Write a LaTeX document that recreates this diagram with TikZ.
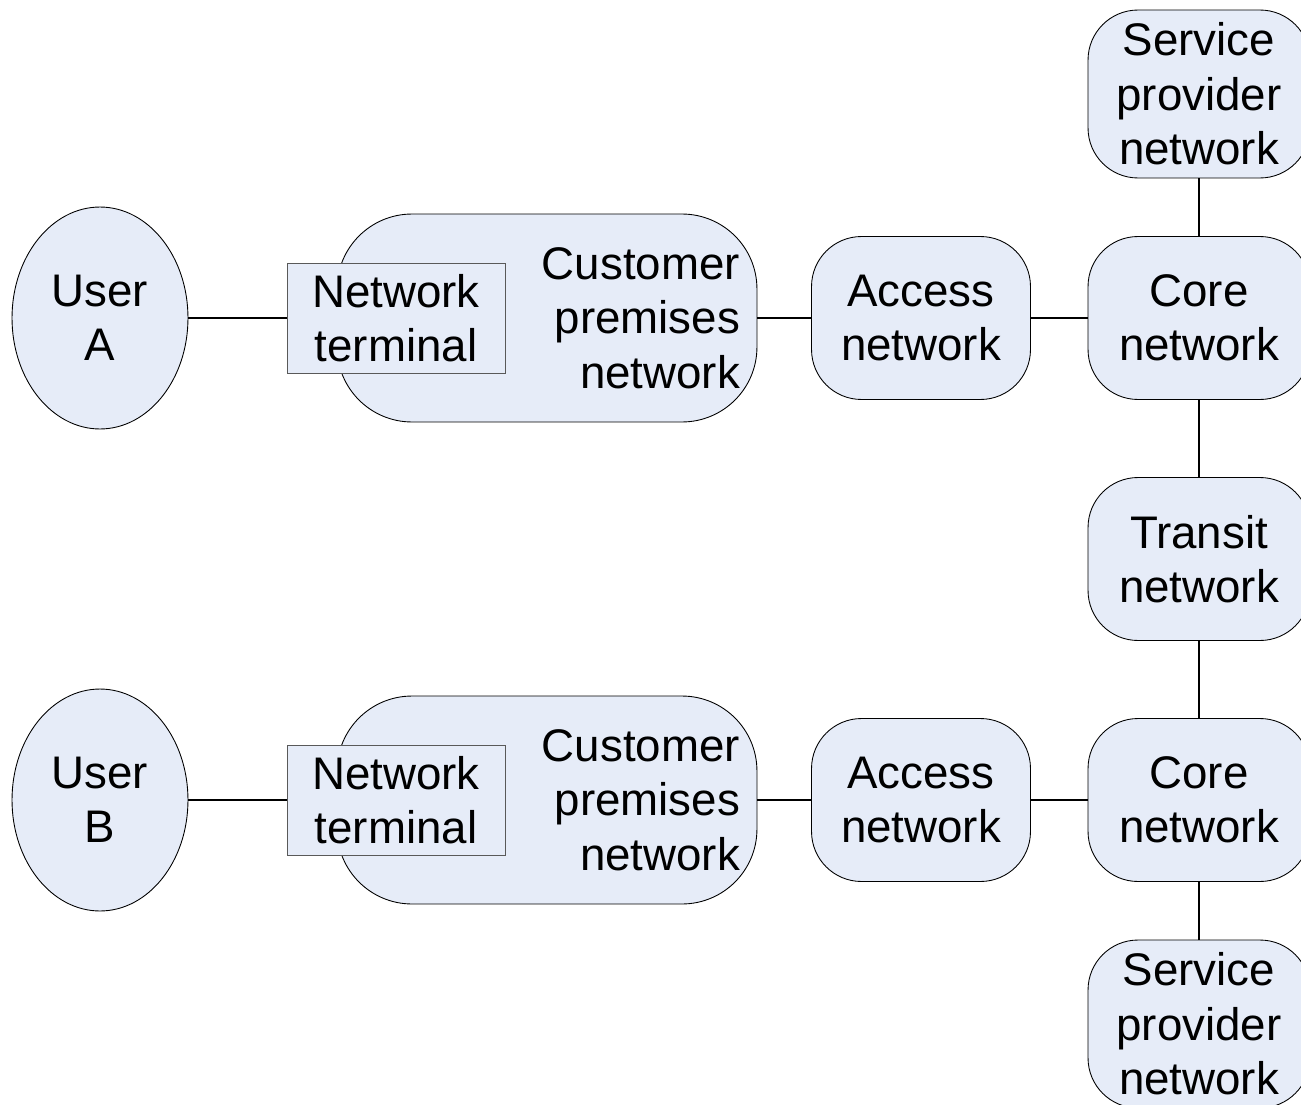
\documentclass[tikz,border=0pt]{standalone}
\usepackage{fontspec}
\setmainfont{Liberation Sans}
\usetikzlibrary{shapes.geometric}
\definecolor{netfill}{RGB}{230,236,248}

\tikzset{
  net/.style={draw, fill=netfill, line width=0.5pt, rounded corners=1cm,
    minimum width=4.38cm, minimum height=3.26cm, align=center,
    font=\fontsize{26}{31}\selectfont},
  cpn/.style={net, rounded corners=1.5cm, minimum width=8.4cm,
    minimum height=4.16cm, inner xsep=0.34cm, text width=7.72cm, align=right},
  term/.style={net, draw=black!65, rounded corners=0pt, minimum width=4.36cm, minimum height=2.2cm},
  user/.style={net, ellipse, minimum width=3.52cm, minimum height=4.44cm},
  link/.style={line width=1.1pt}
}

\begin{document}
\begin{tikzpicture}[x=0.02cm,y=-0.02cm]
    % Picture frame
    \useasboundingbox (0,0) rectangle (1301,1105);
    \clip (0,0) rectangle (1301,1105);

    % Upper row: user A
    \node[user] (userA) at (100,318) {User\\A};
    \node[cpn] (cpnA) at (547,318) {Customer\\premises\\network};
    \node[term] (termA) at (396,318) {Network\\terminal};
    \node[net] (accA) at (921,318) {Access\\network};
    \node[net, minimum width=4.44cm] (coreA) at (1199,318) {Core\\network};

    % Lower row: user B
    \node[user] (userB) at (100,800) {User\\B};
    \node[cpn] (cpnB) at (547,800) {Customer\\premises\\network};
    \node[term] (termB) at (396,800) {Network\\terminal};
    \node[net] (accB) at (921,800) {Access\\network};
    \node[net, minimum width=4.44cm] (coreB) at (1199,800) {Core\\network};

    % Right column
    \node[net, minimum width=4.44cm, minimum height=3.36cm] (spA) at (1199,94) {Service\\provider\\network};
    \node[net, minimum width=4.44cm] (transit) at (1199,559) {Transit\\network};
    \node[net, minimum width=4.44cm, minimum height=3.36cm] (spB) at (1199,1024) {Service\\provider\\network};

    % Horizontal links
    \draw[link] (userA.east) -- (termA.west);
    \draw[link] (cpnA.east) -- (accA.west);
    \draw[link] (accA.east) -- (coreA.west);
    \draw[link] (userB.east) -- (termB.west);
    \draw[link] (cpnB.east) -- (accB.west);
    \draw[link] (accB.east) -- (coreB.west);

    % Vertical links
    \draw[link] (spA.south) -- (coreA.north);
    \draw[link] (coreA.south) -- (transit.north);
    \draw[link] (transit.south) -- (coreB.north);
    \draw[link] (coreB.south) -- (spB.north);
\end{tikzpicture}
\end{document}
